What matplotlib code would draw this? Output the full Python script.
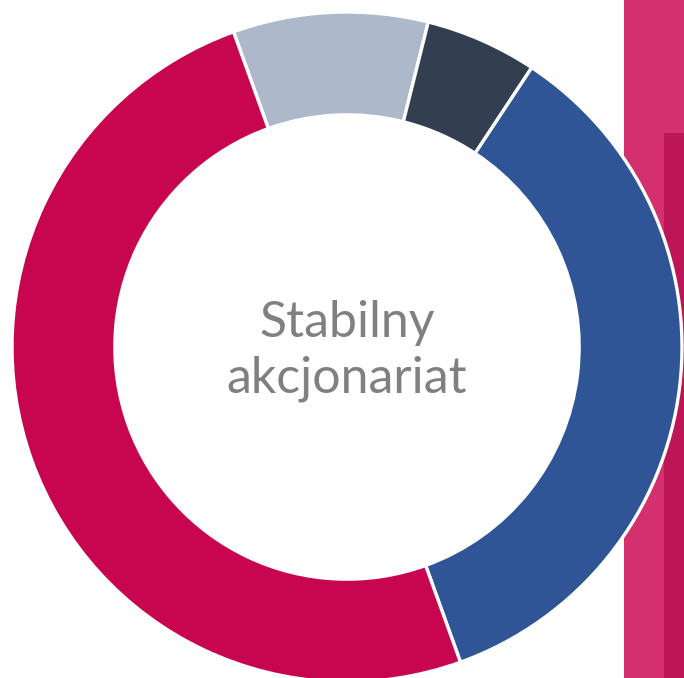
import matplotlib
matplotlib.use("Agg")
import matplotlib.pyplot as plt
from matplotlib.patches import Rectangle

# Data
labels = ["Grupa A", "Grupa B", "Grupa C", "Grupa D"]
values = [9.4, 5.4, 35.2, 50.0]
colors = ["#ADB9CA", "#333F50", "#2F5597", "#C8064F"]
center_lines = ["Stabilny", "akcjonariat"]

W, H = 684, 678
fig = plt.figure(figsize=(W / 100, H / 100), dpi=100)
fig.patch.set_facecolor("white")

# decorative background strip on the right
bg = fig.add_axes([0, 0, 1, 1], zorder=0)
bg.set_xlim(0, W)
bg.set_ylim(H, 0)
bg.axis("off")
bg.add_patch(Rectangle((624, 0), 60, H, facecolor="#D4306F", edgecolor="none"))
bg.add_patch(Rectangle((664, 133), 20, H - 133, facecolor="#BD1657", edgecolor="none"))

ax = fig.add_axes([0, 0, 1, 1], zorder=1)
ax.patch.set_alpha(0)
cx, cy, R = 347, H - 347, 335
ax.pie(values, colors=colors, startangle=109.8, counterclock=False, radius=1,
       wedgeprops=dict(width=0.307, edgecolor="white", linewidth=2.4))
ax.set_xlim(-cx / R, (W - cx) / R)
ax.set_ylim(-cy / R, (H - cy) / R)
ax.set_aspect("auto")
ax.axis("off")

for line, yb in zip(center_lines, [337, 393]):
    ax.text(0, (347 - yb) / R, line, ha="center", va="baseline", fontsize=36,
            color="#808080", family="Lato")

fig.savefig("out.png", dpi=100)
